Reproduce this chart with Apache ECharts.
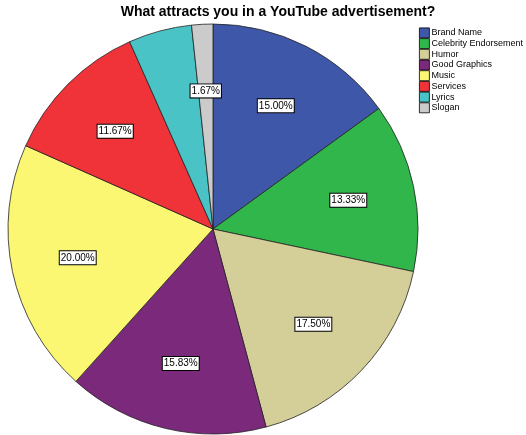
<!DOCTYPE html>
<html><head><meta charset="utf-8">
<script src="https://cdn.jsdelivr.net/npm/echarts@6/dist/echarts.min.js"></script>
<style>html,body{margin:0;padding:0;background:#fff}#c{width:526px;height:435px}</style>
</head><body><div id="c"></div>
<script>
const titleText = 'What attracts you in a YouTube advertisement?';
const categories = ['Brand Name','Celebrity Endorsement','Humor','Good Graphics','Music','Services','Lyrics','Slogan'];
const percents = [15.00, 13.33, 17.50, 15.83, 20.00, 11.67, 5.00, 1.67];
const showLabel = [true, true, true, true, true, true, false, true];
const colors = ['#3f57a9','#30b64a','#d4ce98','#7b297b','#fbf772','#ef3339','#49c3c6','#cbcbcb'];

const chart = echarts.init(document.getElementById('c'));
const cx = 213, cy = 229, R = 205;
chart.setOption({
  animation: false,
  title: { text: titleText, left: 278, textAlign: 'center', top: 5, padding: 0,
    textStyle: { fontFamily: 'Arial, Liberation Sans', fontSize: 14, fontWeight: 'bold', color: '#000' } },
  legend: {
    orient: 'vertical', left: 419, top: 27.5, padding: 0, itemWidth: 10, itemHeight: 10, itemGap: -0.1,
    icon: 'rect', selectedMode: false,
    textStyle: { fontFamily: 'Arial, Liberation Sans', fontSize: 9, color: '#000', padding: [0,0,0,-3], lineHeight: 10 },
    data: categories.map((n, i) => ({ name: n, itemStyle: { color: colors[i], borderColor: '#000', borderWidth: 0.8 } }))
  },
  series: [
    { type: 'pie', center: [cx, cy], radius: [0, R], startAngle: 90, clockwise: true,
      silent: true, label: { show: false }, labelLine: { show: false },
      itemStyle: { borderColor: '#222', borderWidth: 0.8 },
      data: categories.map((n, i) => ({ name: n, value: percents[i], itemStyle: { color: colors[i] } })) },
    { type: 'pie', center: [cx, cy], radius: [R * 0.32, R], startAngle: 90, clockwise: true,
      silent: true, legendHoverLink: false, labelLine: { show: false },
      itemStyle: { color: 'rgba(0,0,0,0)', borderWidth: 0 },
      label: { position: 'inside', fontFamily: 'Arial, Liberation Sans', fontSize: 10, color: '#000',
        backgroundColor: '#fff', borderColor: '#000', borderWidth: 1, padding: [2, 1, 1, 1],
        formatter: p => p.value.toFixed(2) + '%' },
      data: categories.map((n, i) => ({ name: n, value: percents[i], label: { show: showLabel[i] } })) }
  ]
});
</script></body></html>
